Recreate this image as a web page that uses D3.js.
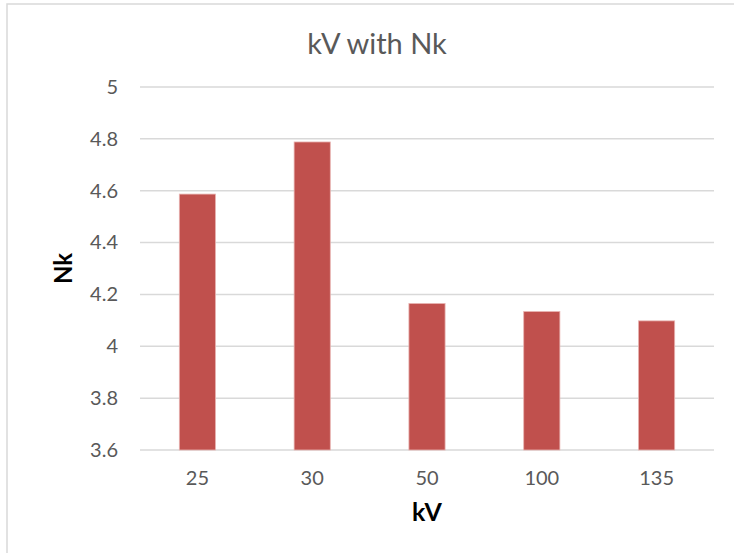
<!DOCTYPE html>
<html>
<head>
<meta charset="utf-8">
<script src="https://d3js.org/d3.v7.min.js"></script>
<style>
  body { margin: 0; background: #fff; }
  svg { display: block; font-family: Lato, "Open Sans", sans-serif; }
</style>
</head>
<body>
<div id="chart"></div>
<script>
  const categories = ["25", "30", "50", "100", "135"];
  const values = [4.587, 4.788, 4.165, 4.134, 4.098];
  const yTicks = [3.6, 3.8, 4, 4.2, 4.4, 4.6, 4.8, 5];

  const width = 734, height = 553;
  const margin = { top: 87, right: 20, bottom: 103, left: 140 };

  const svg = d3.select("#chart").append("svg")
    .attr("width", width)
    .attr("height", height);

  // chart area border (left + top only visible)
  svg.append("rect")
    .attr("x", 7).attr("y", 4)
    .attr("width", width + 20).attr("height", height + 20)
    .attr("fill", "#fff")
    .attr("stroke", "#d9d9d9")
    .attr("stroke-width", 1.5);

  const x = d3.scaleBand()
    .domain(categories)
    .range([margin.left, width - margin.right])
    .paddingInner(0.685)
    .paddingOuter(0.3425);

  const y = d3.scaleLinear()
    .domain([3.6, 5])
    .range([height - margin.bottom, margin.top]);

  // gridlines
  svg.append("g")
    .selectAll("line")
    .data(yTicks)
    .join("line")
    .attr("x1", margin.left)
    .attr("x2", width - margin.right)
    .attr("y1", d => y(d))
    .attr("y2", d => y(d))
    .attr("stroke", "#d9d9d9")
    .attr("stroke-width", 1.5);

  // y tick labels
  const yAxis = svg.append("g")
    .attr("transform", `translate(${margin.left},0)`)
    .call(d3.axisLeft(y).tickValues(yTicks).tickFormat(d => String(d)).tickSize(0).tickPadding(22));
  yAxis.select(".domain").remove();
  yAxis.selectAll("text")
    .attr("fill", "#595959")
    .style("font-size", "20px")
    .style("font-family", "Lato, 'Open Sans', sans-serif");

  // bars
  svg.append("g")
    .selectAll("rect")
    .data(values)
    .join("rect")
    .attr("x", (d, i) => x(categories[i]))
    .attr("y", d => y(d))
    .attr("width", x.bandwidth())
    .attr("height", d => y(3.6) - y(d))
    .attr("fill", "#c0504d")
    .attr("stroke", "#e8b3b1")
    .attr("stroke-width", 0.8);

  // x tick labels
  const xAxis = svg.append("g")
    .attr("transform", `translate(0,${height - margin.bottom})`)
    .call(d3.axisBottom(x).tickSize(0).tickPadding(21));
  xAxis.select(".domain").remove();
  xAxis.selectAll("text")
    .attr("fill", "#595959")
    .style("font-size", "20px")
    .style("font-family", "Lato, 'Open Sans', sans-serif");

  // title
  svg.append("text")
    .attr("x", 377)
    .attr("y", 54)
    .attr("text-anchor", "middle")
    .attr("fill", "#595959")
    .style("font-size", "29px")
    .text("kV with Nk");

  // axis titles
  svg.append("text")
    .attr("x", (margin.left + width - margin.right) / 2)
    .attr("y", 521)
    .attr("text-anchor", "middle")
    .attr("fill", "#000")
    .style("font-size", "25px")
    .style("font-weight", "bold")
    .text("kV");

  svg.append("text")
    .attr("transform", `translate(72,${(margin.top + height - margin.bottom) / 2}) rotate(-90)`)
    .attr("text-anchor", "middle")
    .attr("fill", "#000")
    .style("font-size", "24px")
    .style("font-weight", "bold")
    .text("Nk");
</script>
</body>
</html>
